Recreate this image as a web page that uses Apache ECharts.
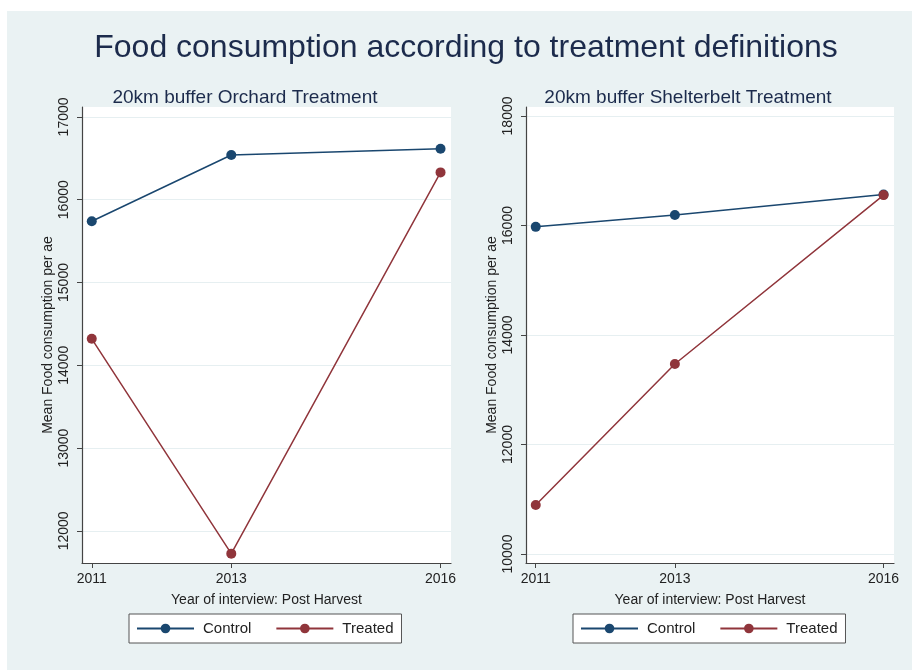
<!DOCTYPE html>
<html>
<head>
<meta charset="utf-8">
<script src="https://cdn.jsdelivr.net/npm/echarts@6/dist/echarts.min.js"></script>
<style>
  html, body { margin: 0; padding: 0; background: #fff; }
  #main { width: 912px; height: 670px; }
</style>
</head>
<body>
<div id="main"></div>
<script>
var years = [2011, 2013, 2016];

// 20km buffer Orchard Treatment
var orchardControl = [15740, 16540, 16615];
var orchardTreated = [14320, 11725, 16330];
var orchardTicks = [12000, 13000, 14000, 15000, 16000, 17000];

// 20km buffer Shelterbelt Treatment
var shelterControl = [15975, 16190, 16565];
var shelterTreated = [10895, 13470, 16555];
var shelterTicks = [10000, 12000, 14000, 16000, 18000];

var seriesNames = ['Control', 'Treated'];
var colors = ['#1A476F', '#90353B'];
var font = 'Liberation Sans, Arial, sans-serif';
var bg = '#EAF2F3';

function pairs(ys) {
    return years.map(function (y, i) { return [y, ys[i]]; });
}

function plain(v) { return String(v); }

function xAxisOf(idx) {
    return {
        type: 'value', gridIndex: idx,
        min: 2010.86, max: 2016.15,
        name: 'Year of interview: Post Harvest',
        nameLocation: 'middle', nameGap: 30,
        nameTextStyle: { fontFamily: font, fontSize: 14, color: '#222' },
        axisLine: { lineStyle: { color: '#444', width: 1.2 } },
        axisTick: { show: true, length: 5, customValues: years, lineStyle: { color: '#444' } },
        axisLabel: { customValues: years, formatter: plain, fontFamily: font, fontSize: 14, color: '#222', margin: 9 },
        splitLine: { show: false }
    };
}

function yAxisOf(idx, lo, hi, ticks) {
    return {
        type: 'value', gridIndex: idx,
        min: lo, max: hi,
        name: 'Mean Food consumption per ae',
        nameLocation: 'middle', nameGap: 27,
        nameTextStyle: { fontFamily: font, fontSize: 14, color: '#222' },
        axisLine: { show: true, lineStyle: { color: '#444', width: 1.2 } },
        axisTick: { show: true, length: 5, customValues: ticks, lineStyle: { color: '#444' } },
        axisLabel: { customValues: ticks, formatter: plain, rotate: 90, fontFamily: font, fontSize: 14, color: '#222', margin: 11 },
        splitLine: { show: true, lineStyle: { color: '#E6EFF1', width: 1 } }
    };
}

function lineSeries(name, xi, data, c) {
    return {
        name: name, type: 'line',
        xAxisIndex: xi, yAxisIndex: xi,
        data: pairs(data),
        symbol: 'circle', symbolSize: 10,
        lineStyle: { color: c, width: 1.5 },
        itemStyle: { color: c },
        emphasis: { disabled: true },
        animation: false
    };
}

function legendOf(left) {
    return {
        data: seriesNames,
        left: left, top: 614,
        orient: 'horizontal',
        itemWidth: 57, itemHeight: 12, itemGap: 24,
        padding: [7, 8, 7, 7],
        backgroundColor: '#fff',
        borderColor: '#555', borderWidth: 1, borderRadius: 0,
        textStyle: { fontFamily: font, fontSize: 15, color: '#222', padding: [0, 0, 0, 4] }
    };
}

var myChart = echarts.init(document.getElementById('main'));

option = {
    color: colors,
    animation: false,
    graphic: [{
        type: 'rect', z: -10,
        shape: { x: 7, y: 11, width: 905, height: 659 },
        style: { fill: bg }
    }],
    title: [{
        text: 'Food consumption according to treatment definitions',
        left: 461, top: 27, textAlign: 'center',
        textStyle: { fontFamily: font, fontSize: 32, fontWeight: 'normal', color: '#1C2B4C' }
    }, {
        text: '20km buffer Orchard Treatment',
        left: 240, top: 83, textAlign: 'center',
        textStyle: { fontFamily: font, fontSize: 19, fontWeight: 'normal', color: '#1C2B4C' }
    }, {
        text: '20km buffer Shelterbelt Treatment',
        left: 683, top: 83, textAlign: 'center',
        textStyle: { fontFamily: font, fontSize: 19, fontWeight: 'normal', color: '#1C2B4C' }
    }],
    legend: [legendOf(129), legendOf(573)],
    grid: [
        { left: 82, top: 107, width: 369, height: 456, show: true, backgroundColor: '#fff', borderWidth: 0 },
        { left: 526, top: 107, width: 368, height: 456, show: true, backgroundColor: '#fff', borderWidth: 0 }
    ],
    xAxis: [xAxisOf(0), xAxisOf(1)],
    yAxis: [
        yAxisOf(0, 11612, 17120, orchardTicks),
        yAxisOf(1, 9836, 18164, shelterTicks)
    ],
    series: [
        lineSeries('Control', 0, orchardControl, colors[0]),
        lineSeries('Treated', 0, orchardTreated, colors[1]),
        lineSeries('Control', 1, shelterControl, colors[0]),
        lineSeries('Treated', 1, shelterTreated, colors[1])
    ]
};

myChart.setOption(option);
</script>
</body>
</html>
